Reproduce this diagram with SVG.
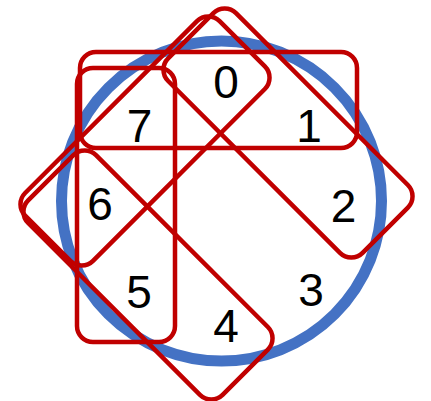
<svg xmlns="http://www.w3.org/2000/svg" width="431" height="401" viewBox="0 0 431 401">
<style>
.grp{fill:none;stroke:#C00000;stroke-width:4.5}
.lbl{font-family:"Liberation Sans",Arial,sans-serif;font-size:46px;fill:#000;text-anchor:middle}
</style>
<rect width="431" height="401" fill="#fff"/>
<g id="circle">
<circle cx="221.5" cy="201" r="160" fill="none" stroke="#4472C4" stroke-width="11"/>
</g>
<g id="groups">
<g id="g701"><rect class="grp" x="80" y="52" width="277" height="96" rx="16"/></g>
<g id="g765"><rect class="grp" x="77" y="68" width="98" height="274" rx="16"/></g>
<g id="g012"><rect class="grp" x="-137.5" y="-48" width="275" height="96" rx="16" transform="translate(288 133) rotate(45)"/></g>
<g id="g654"><rect class="grp" x="-137.5" y="-48" width="275" height="96" rx="16" transform="translate(148 275) rotate(45)"/></g>
<g id="g076"><rect class="grp" x="-137.5" y="-48" width="275" height="96" rx="16" transform="translate(145 141) rotate(-45)"/></g>
</g>
<g id="labels">
<g id="n0"><text class="lbl" x="226" y="98">0</text></g>
<g id="n1"><text class="lbl" x="309" y="142">1</text></g>
<g id="n2"><text class="lbl" x="343.5" y="222">2</text></g>
<g id="n3"><text class="lbl" x="311" y="306">3</text></g>
<g id="n4"><text class="lbl" x="226" y="342">4</text></g>
<g id="n5"><text class="lbl" x="139" y="308">5</text></g>
<g id="n6"><text class="lbl" x="100" y="220">6</text></g>
<g id="n7"><text class="lbl" x="139.5" y="142">7</text></g>
</g>
</svg>
